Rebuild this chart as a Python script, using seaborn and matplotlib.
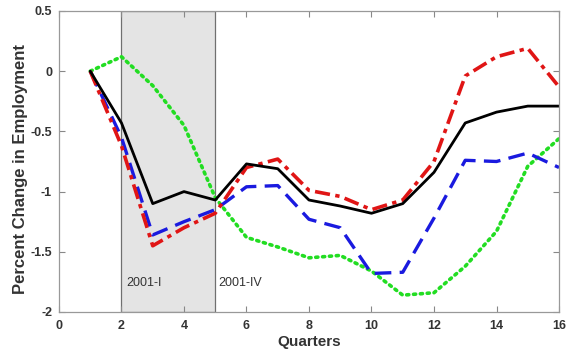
import matplotlib
matplotlib.use("Agg")
import matplotlib.pyplot as plt
import seaborn as sns
import pandas as pd

quarters = list(range(1, 17))
black_solid = [0, -0.43, -1.10, -1.00, -1.07, -0.77, -0.81, -1.07, -1.12, -1.18, -1.10, -0.84, -0.43, -0.34, -0.29, -0.29]
red_dashdot = [0, -0.62, -1.45, -1.30, -1.18, -0.80, -0.73, -0.99, -1.04, -1.15, -1.07, -0.75, -0.04, 0.12, 0.19, -0.13]
blue_dashed = [0, -0.55, -1.36, -1.25, -1.15, -0.96, -0.95, -1.23, -1.30, -1.68, -1.67, -1.22, -0.74, -0.75, -0.68, -0.80]
green_dotted = [0, 0.12, -0.12, -0.45, -1.05, -1.38, -1.46, -1.55, -1.53, -1.66, -1.86, -1.84, -1.62, -1.33, -0.79, -0.56]

recession_start, recession_end = 2, 5
xticks = [0, 2, 4, 6, 8, 10, 12, 14, 16]
yticks = [-2, -1.5, -1, -0.5, 0, 0.5]

sns.set_style("ticks")
plt.rcParams['font.family'] = ['Liberation Sans', 'DejaVu Sans']

fig = plt.figure(figsize=(5.76, 3.58), dpi=100)
ax = fig.add_axes([0.1024, 0.1285, 0.8681, 0.8408])

ax.axvspan(recession_start, recession_end, facecolor='#e4e4e4', edgecolor='#707070', linewidth=0.9, zorder=0)

df = pd.DataFrame({'q': quarters, 'black': black_solid, 'red': red_dashdot,
                   'blue': blue_dashed, 'green': green_dotted})

sns.lineplot(data=df, x='q', y='green', ax=ax, color='#22dd22', linewidth=2.6, linestyle=(0, (0.6, 1.3)), dash_capstyle='round')
sns.lineplot(data=df, x='q', y='blue', ax=ax, color='#1a1adf', linewidth=2.4, linestyle=(0, (5, 2.5)))
sns.lineplot(data=df, x='q', y='red', ax=ax, color='#e01515', linewidth=2.6, linestyle=(0, (4.2, 1.5, 1.2, 1.5)))
sns.lineplot(data=df, x='q', y='black', ax=ax, color='black', linewidth=2.0)

ax.text(2.15, -1.76, '2001-I', fontsize=9, color='#333333', va='center')
ax.text(5.1, -1.76, '2001-IV', fontsize=9, color='#333333', va='center')

ax.set_xlim(0, 16)
ax.set_ylim(-2, 0.5)
ax.set_xticks(xticks)
ax.set_yticks(yticks)
ax.set_xticklabels([str(t) for t in xticks])
ax.set_yticklabels(['-2', '-1.5', '-1', '-0.5', '0', '0.5'])
ax.tick_params(direction='in', top=True, right=True, length=4, width=0.8, colors='#888888',
               labelcolor='#333333', labelsize=9)
ax.tick_params(axis='x', pad=6)
ax.tick_params(axis='y', pad=5)
for lbl in ax.get_xticklabels() + ax.get_yticklabels():
    lbl.set_fontweight('bold')
for s in ax.spines.values():
    s.set_color('#999999')
    s.set_linewidth(0.9)

ax.set_xlabel('Quarters', fontsize=11, fontweight='bold', color='#333333', labelpad=2)
ax.set_ylabel('Percent Change in Employment', fontsize=12, fontweight='bold', color='#333333', labelpad=2)
ax.yaxis.label.set_y(0.475)

fig.savefig('out.png', dpi=100)
